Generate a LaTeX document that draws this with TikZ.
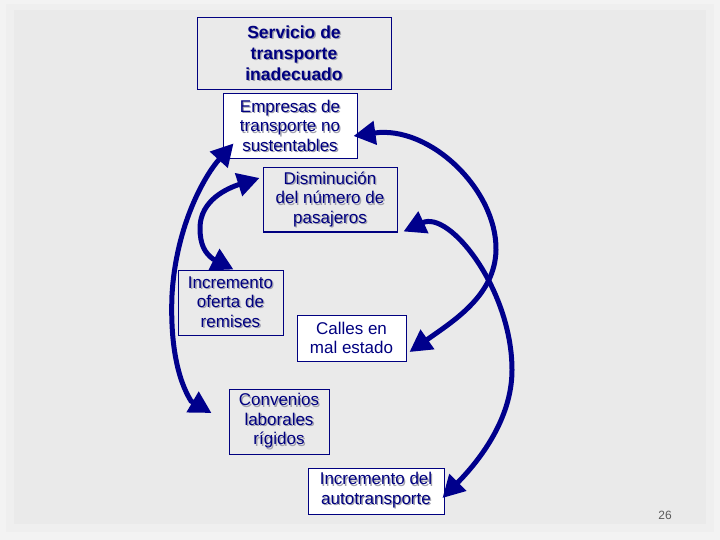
\documentclass[tikz,border=0pt]{standalone}
\usepackage{fontspec}
\setmainfont{Liberation Sans}
\usetikzlibrary{arrows.meta}
\definecolor{navy}{RGB}{0,0,128}
\definecolor{arrowblue}{RGB}{0,0,140}
\definecolor{bgA}{HTML}{F3F3F3}
\definecolor{bgB}{HTML}{EFEFEF}
\definecolor{bgC}{HTML}{EAEAEA}
\definecolor{shadowgray}{HTML}{A0A0AC}
\definecolor{pagegray}{RGB}{90,90,90}
\newcommand\shl[1]{\leavevmode\rlap{\kern1.3pt\raisebox{-1.3pt}{\color{shadowgray}#1}}#1}
\begin{document}
\begin{tikzpicture}[x=1pt,y=-1pt,
  box/.style={draw=navy, line width=1pt, inner sep=0pt, align=center, text=navy,
    font=\fontsize{17}{19.5}\selectfont},
  wbox/.style={box, fill=white},
  conn/.style={draw=arrowblue, line width=5pt,
    >={Triangle[length=22pt,width=23pt]}, <->}]
% background
\fill[bgA] (0,0) rectangle (720,540);
\fill[bgB] (6,4) rectangle (714,532);
\fill[bgC] (14,10) rectangle (706,524);
\useasboundingbox (0,0) rectangle (720,540);
% boxes
\node[box, minimum width=194pt, minimum height=72pt,
  font=\bfseries\fontsize{17.5}{21}\selectfont] (serv) at (294,54)
  {\shl{Servicio de}\\\shl{transporte}\\\shl{inadecuado}};
\node[wbox, minimum width=134pt, minimum height=65pt] (emp) at (290,126.5)
  {\shl{Empresas de}\\\shl{transporte no}\\\shl{sustentables}};
\node[box, minimum width=134pt, minimum height=64pt] (dis) at (330,200)
  {\shl{Disminución}\\\shl{del número de}\\\shl{pasajeros}};
\node[box, minimum width=105pt, minimum height=65pt] (inc) at (230.5,302.5)
  {\shl{Incremento}\\\shl{oferta de}\\\shl{remises}};
\node[wbox, minimum width=109pt, minimum height=46pt] (cal) at (351.5,338)
  {Calles en\\mal estado};
\node[box, minimum width=100pt, minimum height=65pt] (conv) at (279,421.5)
  {\shl{Convenios}\\\shl{laborales}\\\shl{rígidos}};
\node[wbox, minimum width=136pt, minimum height=46pt] (auto) at (376,491)
  {\shl{Incremento del}\\\shl{autotransporte}};
\node[text=pagegray, inner sep=0pt, font=\fontsize{12}{14}\selectfont] (pg) at (665,515) {26};
% connectors
\draw[conn] ([shift={(11,-16)}]emp.south west) .. controls (205,175) and (176,225) .. (172,295)
  .. controls (170,345) and (178,380) .. (191,401) -- ([shift={(-17,-8.5)}]conv.west);
\draw[conn] ([shift={(-3,-22)}]dis.west) .. controls (228,188) and (200,200) .. (200,228)
  .. controls (200,245) and (205,253) .. (213,259) -- ([shift={(3,0)}]inc.north);
\draw[conn] ([shift={(-4,9.5)}]emp.east) .. controls (430,125) and (497,190) .. (496,250)
  .. controls (495,295) and (455,320) .. ([shift={(3,14)}]cal.east);
\draw[conn] ([shift={(6,-1)}]dis.south east) .. controls (450,210) and (512,290) .. (512,370)
  .. controls (512,420) and (478,462) .. ([shift={(-2,7)}]auto.east);
\end{tikzpicture}
\end{document}
